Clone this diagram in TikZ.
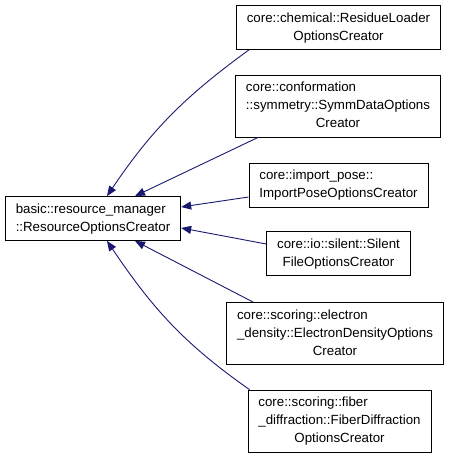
\documentclass[tikz,border=0pt]{standalone}
\usepackage{fontspec}
\setmainfont{Liberation Sans}
\usetikzlibrary{arrows.meta}
\definecolor{edgeblue}{HTML}{191970}
\newcommand{\lastrow}[1]{\multicolumn{1}{@{}c@{}}{#1}}

\begin{document}
\begin{tikzpicture}[x=1pt, y=1pt,
    cls/.style={draw, rectangle, line width=0.8pt, inner xsep=10.5pt,
        inner ysep=4pt, font=\fontsize{13.3}{18}\selectfont},
    edge/.style={{Triangle[length=10pt,width=8pt]}-, draw=edgeblue,
        line width=0.9pt}]

    \useasboundingbox (0,0) rectangle (453,459);

    % base class
    \node[cls] (base) at (93,240.5)
        {\begin{tabular}{@{}l@{}}basic::resource\_manager\\\lastrow{::ResourceOptionsCreator}\end{tabular}};

    % derived classes
    \node[cls] (b1) at (338.5,431.5)
        {\begin{tabular}{@{}l@{}}core::chemical::ResidueLoader\\\lastrow{OptionsCreator}\end{tabular}};
    \node[cls] (b2) at (338,353)
        {\begin{tabular}{@{}l@{}}core::conformation\\::symmetry::SymmDataOptions\\\lastrow{Creator}\end{tabular}};
    \node[cls] (b3) at (338.5,274)
        {\begin{tabular}{@{}l@{}}core::import\_pose::\\\lastrow{ImportPoseOptionsCreator}\end{tabular}};
    \node[cls] (b4) at (338.5,205.5)
        {\begin{tabular}{@{}l@{}}core::io::silent::Silent\\\lastrow{FileOptionsCreator}\end{tabular}};
    \node[cls] (b5) at (335,125.5)
        {\begin{tabular}{@{}l@{}}core::scoring::electron\\\_density::ElectronDensityOptions\\\lastrow{Creator}\end{tabular}};
    \node[cls] (b6) at (339.5,38)
        {\begin{tabular}{@{}l@{}}core::scoring::fiber\\\_diffraction::FiberDiffraction\\\lastrow{OptionsCreator}\end{tabular}};

    % inheritance edges
    \draw[edge] ([xshift=14pt]base.north) to[out=56, in=216] ([xshift=13pt]b1.south west);
    \draw[edge] ([xshift=42pt]base.north) -- ([xshift=23pt]b2.south west);
    \draw[edge] ([yshift=11.5pt]base.east) -- ([yshift=-12pt]b3.west);
    \draw[edge] ([yshift=-9.5pt]base.east) -- ([yshift=9.5pt]b4.west);
    \draw[edge] ([xshift=42pt]base.south) -- ([xshift=27pt]b5.north west);
    \draw[edge] ([xshift=14pt]base.south) to[out=-56, in=145] ([xshift=2pt]b6.north west);

\end{tikzpicture}
\end{document}
